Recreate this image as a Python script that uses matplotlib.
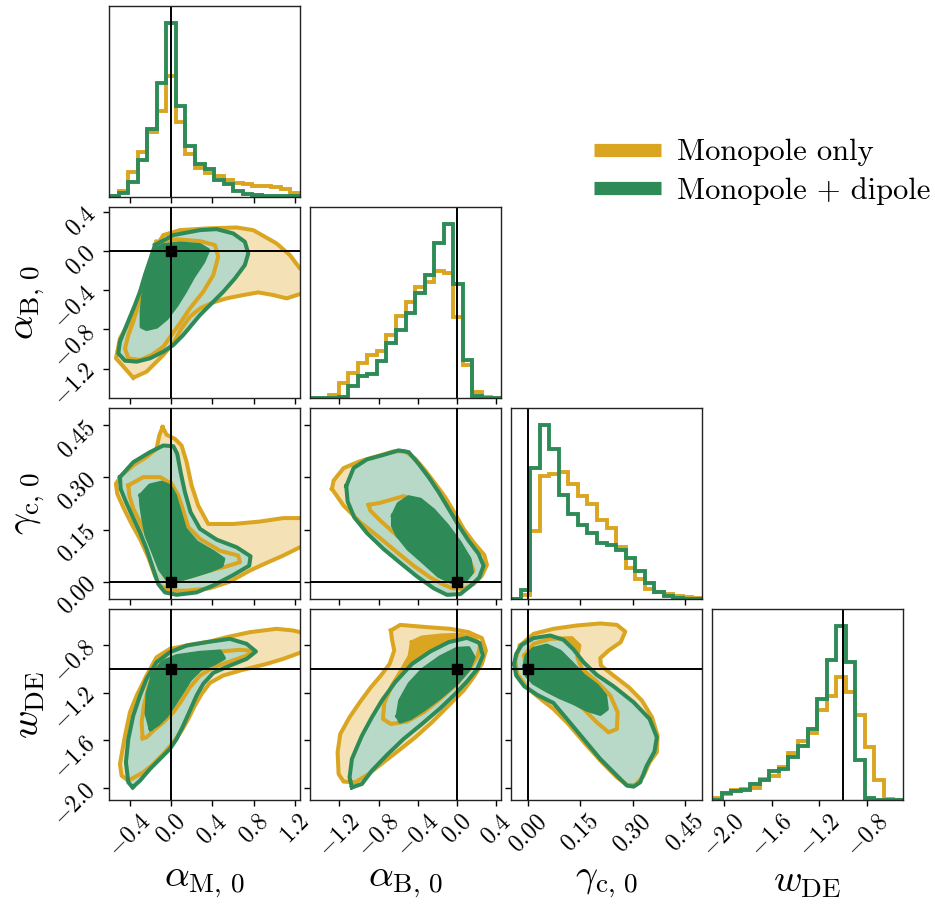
import numpy as np
import matplotlib
matplotlib.use("Agg")
import matplotlib.pyplot as plt
from matplotlib.lines import Line2D

plt.rcParams["font.family"] = "serif"
plt.rcParams["font.serif"] = ["cmr10"]
plt.rcParams["mathtext.fontset"] = "cm"
plt.rcParams["axes.formatter.use_mathtext"] = True

# parameters
labels = [r"$\alpha_{\mathrm{M},\,0}$", r"$\alpha_{\mathrm{B},\,0}$",
          r"$\gamma_{\mathrm{c},\,0}$", r"$w_{\mathrm{DE}}$"]
ranges = [(-0.6, 1.25), (-1.5, 0.45), (-0.05, 0.50), (-2.1, -0.5)]
ticks = [[-0.4, 0.0, 0.4, 0.8, 1.2], [-1.2, -0.8, -0.4, 0.0, 0.4],
         [0.0, 0.15, 0.30, 0.45], [-2.0, -1.6, -1.2, -0.8]]
truths = [0.0, 0.0, 0.0, -1.0]

names = ["Monopole only", "Monopole + dipole"]
line_colors = ["#DAA520", "#2E8B57"]
light_colors = ["#F4E2B6", "#B9D9C8"]

# 1D marginals, 20 bins over each range (relative counts)
hist_mono = [
    [2, 17, 75, 135, 195, 260, 365, 225, 128, 88, 72, 62, 50, 43, 38, 32, 34, 30, 23, 13],
    [0, 0, 8, 46, 76, 106, 128, 141, 188, 246, 288, 334, 348, 380, 374, 244, 98, 19, 3, 0],
    [0, 11, 204, 366, 374, 378, 344, 306, 284, 236, 211, 156, 91, 61, 31, 22, 14, 10, 6, 2],
    [7, 17, 29, 34, 37, 64, 73, 99, 139, 177, 199, 269, 311, 369, 324, 254, 159, 59, 2, 1],
]
hist_dip = [
    [2, 12, 45, 112, 205, 344, 522, 274, 153, 100, 85, 50, 38, 18, 10, 5, 4, 2, 2, 2],
    [0, 0, 0, 2, 36, 66, 71, 111, 166, 204, 256, 316, 369, 464, 521, 341, 114, 6, 1, 0],
    [0, 28, 391, 518, 446, 310, 254, 221, 196, 168, 161, 146, 121, 84, 48, 21, 8, 2, 1, 0],
    [1, 21, 27, 31, 49, 61, 87, 94, 129, 161, 212, 302, 419, 519, 413, 119, 5, 1, 0, 0],
]

# 2D credible regions (68% / 95%), vertices in data coordinates
# panel alpha_B vs alpha_M
mono_MB_95 = [(-0.365, -1.293), (-0.532, -1.095), (-0.494, -0.891), (-0.381, -0.687), (-0.300, -0.449),
              (-0.236, -0.211), (-0.155, 0.027), (-0.074, 0.163), (0.087, 0.214), (0.345, 0.231),
              (0.636, 0.241), (0.797, 0.214), (1.023, 0.078), (1.152, -0.041), (1.249, -0.177),
              (1.41, -0.279), (1.41, -0.449), (1.249, -0.439), (1.120, -0.483), (0.991, -0.449),
              (0.846, -0.422), (0.700, -0.449), (0.539, -0.483), (0.410, -0.524), (0.281, -0.585),
              (0.184, -0.670), (0.103, -0.789), (0.023, -0.942), (-0.074, -1.061), (-0.171, -1.163),
              (-0.236, -1.231)]
mono_MB_68 = [(-0.139, 0.095), (0.055, 0.119), (0.281, 0.102), (0.426, 0.061), (0.458, -0.058),
              (0.410, -0.245), (0.313, -0.415), (0.184, -0.585), (0.087, -0.738), (0.006, -0.857),
              (-0.074, -0.976), (-0.187, -1.061), (-0.300, -1.112), (-0.413, -1.095), (-0.445, -0.993),
              (-0.413, -0.857), (-0.365, -0.721), (-0.316, -0.551), (-0.284, -0.415), (-0.236, -0.245),
              (-0.187, -0.075)]
dip_MB_95 = [(-0.155, 0.061), (0.023, 0.163), (0.281, 0.214), (0.442, 0.224), (0.603, 0.180),
             (0.716, 0.095), (0.749, -0.024), (0.716, -0.143), (0.620, -0.279), (0.507, -0.415),
             (0.394, -0.534), (0.281, -0.653), (0.200, -0.755), (0.119, -0.857), (0.023, -0.959),
             (-0.074, -1.027), (-0.203, -1.095), (-0.332, -1.129), (-0.445, -1.119), (-0.510, -1.044),
             (-0.494, -0.925), (-0.429, -0.755), (-0.349, -0.551), (-0.300, -0.415), (-0.252, -0.245),
             (-0.203, -0.092)]
dip_MB_68 = [(-0.155, 0.010), (-0.074, 0.061), (0.087, 0.078), (0.281, 0.061), (0.361, 0.010),
             (0.313, -0.109), (0.216, -0.262), (0.135, -0.415), (0.055, -0.551), (-0.042, -0.687),
             (-0.139, -0.772), (-0.236, -0.796), (-0.284, -0.772), (-0.284, -0.619), (-0.268, -0.449),
             (-0.236, -0.279), (-0.203, -0.143), (-0.178, -0.041)]

# panel gamma_c vs alpha_M
mono_MG_95 = [(-0.081, 0.445), (-0.042, 0.423), (0.039, 0.411), (0.103, 0.392), (0.152, 0.344),
              (0.200, 0.277), (0.264, 0.219), (0.361, 0.166), (0.603, 0.166), (0.862, 0.173),
              (1.087, 0.183), (1.249, 0.183), (1.442, 0.183), (1.442, 0.099), (1.249, 0.099),
              (1.087, 0.075), (0.926, 0.054), (0.765, 0.032), (0.571, 0.000), (0.378, -0.019),
              (0.152, -0.026), (-0.010, -0.026), (-0.106, -0.012), (-0.155, 0.017), (-0.219, 0.070),
              (-0.300, 0.123), (-0.381, 0.166), (-0.455, 0.210), (-0.520, 0.253), (-0.533, 0.282),
              (-0.478, 0.306), (-0.365, 0.335), (-0.236, 0.359), (-0.139, 0.383), (-0.113, 0.421)]
mono_MG_68 = [(-0.413, 0.277), (-0.268, 0.301), (-0.106, 0.301), (0.006, 0.282), (0.071, 0.248),
              (0.119, 0.205), (0.168, 0.157), (0.281, 0.123), (0.474, 0.089), (0.652, 0.075),
              (0.668, 0.056), (0.539, 0.044), (0.378, 0.032), (0.216, 0.017), (0.055, 0.003),
              (-0.042, 0.008), (-0.106, 0.036), (-0.171, 0.089), (-0.236, 0.133), (-0.300, 0.171),
              (-0.365, 0.210), (-0.403, 0.248)]
dip_MG_95 = [(-0.494, 0.301), (-0.365, 0.344), (-0.203, 0.373), (-0.074, 0.392), (0.023, 0.390),
             (0.061, 0.368), (0.094, 0.315), (0.135, 0.258), (0.190, 0.200), (0.281, 0.152),
             (0.442, 0.121), (0.636, 0.099), (0.771, 0.073), (0.758, 0.046), (0.603, 0.019),
             (0.410, -0.011), (0.248, -0.031), (0.055, -0.038), (-0.058, -0.031), (-0.123, -0.007),
             (-0.171, 0.036), (-0.236, 0.094), (-0.300, 0.142), (-0.365, 0.183), (-0.435, 0.229),
             (-0.487, 0.267)]
dip_MG_68 = [(-0.294, 0.248), (-0.203, 0.277), (-0.090, 0.285), (-0.010, 0.275), (0.039, 0.248),
             (0.087, 0.200), (0.135, 0.152), (0.248, 0.113), (0.410, 0.085), (0.507, 0.065),
             (0.490, 0.046), (0.378, 0.032), (0.216, 0.017), (0.055, 0.003), (-0.042, 0.010),
             (-0.106, 0.036), (-0.171, 0.085), (-0.236, 0.133), (-0.268, 0.181), (-0.287, 0.219)]

# panel w_DE vs alpha_M
mono_MW_95 = [(-0.413, -1.938), (-0.478, -1.896), (-0.494, -1.798), (-0.445, -1.561), (-0.397, -1.365),
              (-0.332, -1.225), (-0.236, -1.057), (-0.139, -0.904), (-0.010, -0.834), (0.184, -0.800),
              (0.378, -0.772), (0.539, -0.736), (0.765, -0.694), (1.023, -0.666), (1.184, -0.680),
              (1.249, -0.694), (1.442, -0.694), (1.442, -0.867), (1.249, -0.867), (1.087, -0.918),
              (0.926, -0.960), (0.797, -0.988), (0.668, -1.016), (0.507, -1.057), (0.378, -1.119),
              (0.297, -1.211), (0.232, -1.309), (0.168, -1.421), (0.103, -1.519), (0.023, -1.617),
              (-0.074, -1.714), (-0.171, -1.798), (-0.268, -1.868)]
mono_MW_68 = [(-0.274, -1.583), (-0.284, -1.449), (-0.261, -1.309), (-0.219, -1.155), (-0.155, -1.016),
              (-0.058, -0.932), (0.087, -0.895), (0.281, -0.876), (0.474, -0.856), (0.668, -0.842),
              (0.804, -0.851), (0.733, -0.890), (0.571, -0.940), (0.410, -0.988), (0.281, -1.058),
              (0.184, -1.155), (0.103, -1.267), (0.023, -1.365), (-0.074, -1.449), (-0.171, -1.519),
              (-0.236, -1.575)]
dip_MW_95 = [(-0.371, -1.994), (-0.413, -1.952), (-0.436, -1.784), (-0.413, -1.589), (-0.365, -1.393),
             (-0.300, -1.225), (-0.236, -1.085), (-0.139, -0.946), (-0.010, -0.862), (0.152, -0.806),
             (0.345, -0.778), (0.571, -0.750), (0.733, -0.792), (0.823, -0.856), (0.733, -0.918),
             (0.571, -0.974), (0.410, -1.035), (0.313, -1.127), (0.248, -1.225), (0.184, -1.351),
             (0.119, -1.477), (0.055, -1.589), (-0.010, -1.672), (-0.106, -1.756), (-0.203, -1.840),
             (-0.300, -1.938)]
dip_MW_68 = [(-0.197, -1.505), (-0.236, -1.379), (-0.226, -1.211), (-0.178, -1.057), (-0.081, -0.946),
             (0.055, -0.895), (0.281, -0.867), (0.474, -0.856), (0.513, -0.912), (0.410, -0.960),
             (0.281, -1.007), (0.184, -1.091), (0.103, -1.203), (0.023, -1.309), (-0.042, -1.393),
             (-0.123, -1.463)]

# panel gamma_c vs alpha_B
mono_BG_95 = [(-1.276, 0.267), (-1.259, 0.291), (-1.157, 0.327), (-0.987, 0.347), (-0.817, 0.361),
              (-0.647, 0.375), (-0.528, 0.375), (-0.425, 0.354), (-0.323, 0.320), (-0.221, 0.282),
              (-0.119, 0.243), (-0.028, 0.200), (0.068, 0.152), (0.170, 0.113), (0.279, 0.077),
              (0.306, 0.048), (0.255, 0.017), (0.170, -0.007), (0.068, -0.021), (-0.051, -0.019),
              (-0.170, -0.004), (-0.272, 0.012), (-0.443, 0.046), (-0.613, 0.085), (-0.817, 0.133),
              (-0.987, 0.171), (-1.157, 0.219)]
mono_BG_68 = [(-0.902, 0.221), (-0.783, 0.227), (-0.647, 0.238), (-0.545, 0.246), (-0.408, 0.234),
              (-0.272, 0.205), (-0.136, 0.162), (0.000, 0.113), (0.119, 0.070), (0.170, 0.032),
              (0.102, 0.010), (-0.034, 0.012), (-0.204, 0.041), (-0.408, 0.085), (-0.613, 0.133),
              (-0.783, 0.176), (-0.885, 0.205)]
dip_BG_95 = [(-1.130, 0.275), (-1.055, 0.327), (-0.919, 0.352), (-0.749, 0.365), (-0.596, 0.378),
             (-0.493, 0.373), (-0.391, 0.339), (-0.289, 0.301), (-0.187, 0.258), (-0.085, 0.210),
             (0.017, 0.162), (0.119, 0.118), (0.221, 0.080), (0.272, 0.046), (0.228, 0.012),
             (0.136, -0.013), (0.034, -0.036), (-0.102, -0.038), (-0.238, -0.019), (-0.408, 0.015),
             (-0.579, 0.054), (-0.749, 0.094), (-0.919, 0.140), (-1.048, 0.185), (-1.116, 0.231)]
dip_BG_68 = [(-0.653, 0.190), (-0.596, 0.224), (-0.493, 0.243), (-0.374, 0.236), (-0.238, 0.205),
             (-0.102, 0.162), (0.027, 0.113), (0.129, 0.065), (0.153, 0.027), (0.085, 0.003),
             (-0.051, -0.002), (-0.187, 0.017), (-0.340, 0.056), (-0.494, 0.094), (-0.606, 0.133),
             (-0.653, 0.161)]

# panel w_DE vs alpha_B
mono_BW_95 = [(-0.674, -0.680), (-0.579, -0.633), (-0.306, -0.652), (-0.068, -0.666), (0.119, -0.694),
              (0.255, -0.744), (0.296, -0.848), (0.255, -0.960), (0.170, -1.071), (0.068, -1.183),
              (-0.085, -1.309), (-0.255, -1.449), (-0.425, -1.575), (-0.596, -1.686), (-0.749, -1.784),
              (-0.902, -1.882), (-1.038, -1.952), (-1.157, -1.946), (-1.208, -1.882), (-1.218, -1.700),
              (-1.191, -1.547), (-1.096, -1.407), (-0.987, -1.276), (-0.878, -1.155), (-0.776, -1.057),
              (-0.687, -0.960), (-0.640, -0.848), (-0.664, -0.750)]
mono_BW_68 = [(-0.460, -0.778), (-0.357, -0.739), (-0.170, -0.722), (0.034, -0.716), (0.177, -0.736),
              (0.238, -0.806), (0.211, -0.895), (0.129, -1.002), (0.000, -1.127), (-0.170, -1.253),
              (-0.340, -1.365), (-0.511, -1.443), (-0.674, -1.463), (-0.755, -1.421), (-0.742, -1.287),
              (-0.664, -1.141), (-0.562, -1.007), (-0.483, -0.895)]
dip_BW_95 = [(-1.072, -1.994), (-1.096, -1.910), (-1.072, -1.756), (-0.970, -1.561), (-0.868, -1.407),
             (-0.766, -1.267), (-0.630, -1.113), (-0.459, -0.960), (-0.272, -0.856), (-0.085, -0.778),
             (0.102, -0.742), (0.231, -0.784), (0.265, -0.890), (0.204, -1.007), (0.102, -1.108),
             (-0.017, -1.211), (-0.170, -1.331), (-0.357, -1.463), (-0.545, -1.589), (-0.715, -1.723),
             (-0.868, -1.854), (-0.970, -1.966)]
dip_BW_68 = [(-0.606, -1.398), (-0.579, -1.267), (-0.483, -1.127), (-0.347, -1.007), (-0.170, -0.904),
             (0.000, -0.834), (0.119, -0.828), (0.170, -0.904), (0.119, -1.007), (0.000, -1.119),
             (-0.170, -1.239), (-0.340, -1.343), (-0.477, -1.415), (-0.579, -1.443)]

# panel w_DE vs gamma_c
mono_GW_95 = [(-0.024, -0.806), (0.015, -0.708), (0.072, -0.666), (0.140, -0.638), (0.207, -0.621),
              (0.255, -0.633), (0.279, -0.689), (0.266, -0.778), (0.231, -0.848), (0.207, -0.912),
              (0.209, -0.974), (0.245, -1.057), (0.289, -1.155), (0.327, -1.267), (0.356, -1.407),
              (0.372, -1.561), (0.370, -1.700), (0.349, -1.784), (0.332, -1.896), (0.308, -1.974),
              (0.284, -1.974), (0.255, -1.910), (0.212, -1.784), (0.164, -1.630), (0.115, -1.463),
              (0.072, -1.337), (0.029, -1.239), (-0.005, -1.155), (-0.032, -1.043), (-0.038, -0.932)]
mono_GW_68 = [(-0.012, -0.890), (0.015, -0.792), (0.063, -0.750), (0.125, -0.744), (0.147, -0.806),
              (0.141, -0.904), (0.154, -1.002), (0.197, -1.108), (0.236, -1.225), (0.257, -1.365),
              (0.255, -1.505), (0.231, -1.533), (0.197, -1.449), (0.159, -1.337), (0.111, -1.239),
              (0.063, -1.169), (0.019, -1.099), (-0.007, -1.015)]
dip_GW_95 = [(-0.041, -0.960), (-0.035, -0.876), (-0.019, -0.800), (0.015, -0.744), (0.063, -0.722),
             (0.101, -0.758), (0.130, -0.839), (0.159, -0.946), (0.197, -1.052), (0.245, -1.147),
             (0.303, -1.281), (0.349, -1.421), (0.370, -1.575), (0.363, -1.695), (0.341, -1.812),
             (0.322, -1.952), (0.303, -1.988), (0.284, -1.980), (0.255, -1.896), (0.207, -1.756),
             (0.159, -1.589), (0.111, -1.421), (0.072, -1.287), (0.026, -1.220), (-0.012, -1.147),
             (-0.035, -1.057)]
dip_GW_68 = [(-0.012, -0.988), (-0.005, -0.890), (0.015, -0.834), (0.053, -0.806), (0.091, -0.856),
             (0.122, -0.946), (0.159, -1.057), (0.197, -1.141), (0.221, -1.225), (0.226, -1.337),
             (0.207, -1.379), (0.168, -1.343), (0.130, -1.287), (0.091, -1.239), (0.053, -1.183),
             (0.015, -1.119), (-0.005, -1.057)]

# (row, col) -> [monopole (95, 68), dipole (95, 68)]
regions = {
    (1, 0): [(mono_MB_95, mono_MB_68), (dip_MB_95, dip_MB_68)],
    (2, 0): [(mono_MG_95, mono_MG_68), (dip_MG_95, dip_MG_68)],
    (3, 0): [(mono_MW_95, mono_MW_68), (dip_MW_95, dip_MW_68)],
    (2, 1): [(mono_BG_95, mono_BG_68), (dip_BG_95, dip_BG_68)],
    (3, 1): [(mono_BW_95, mono_BW_68), (dip_BW_95, dip_BW_68)],
    (3, 2): [(mono_GW_95, mono_GW_68), (dip_GW_95, dip_GW_68)],
}

W, H = 935, 905
fig = plt.figure(figsize=(W / 100, H / 100), dpi=100)

col_left = [109, 310, 511, 712]
row_top = [6, 207, 408, 609]
size = 191


def closed(pts):
    arr = np.array(pts)
    return np.vstack([arr, arr[:1]])


def style_axes(ax, i, j):
    for s in ax.spines.values():
        s.set_linewidth(1.0)
        s.set_color("#222222")
    ax.tick_params(direction="out", length=4, width=1.0, labelsize=17)
    ax.tick_params(axis="y", pad=2.5)
    ax.set_xticks(ticks[j])
    ax.set_xlim(ranges[j])
    if i == 3:
        for lab in ax.get_xticklabels():
            lab.set_rotation(45)
        ax.set_xlabel(labels[j], fontsize=28)
        ax.xaxis.set_label_coords(0.5, -0.43)
        ax.xaxis.label.set_va("center")
    else:
        ax.set_xticklabels([])


axes = {}
for i in range(4):
    for j in range(i + 1):
        rect = [col_left[j] / W, 1 - (row_top[i] + size) / H, size / W, size / H]
        ax = fig.add_axes(rect)
        axes[(i, j)] = ax
        if i == j:
            edges = np.linspace(ranges[j][0], ranges[j][1], 21)
            for k in range(2):
                h = [hist_mono, hist_dip][k][j]
                ax.stairs(h, edges, color=line_colors[k], lw=2.8, baseline=None)
            top = max(max(hist_mono[j]), max(hist_dip[j]))
            ax.set_ylim(0, 1.1 * top)
            ax.set_yticks([])
            ax.axvline(truths[j], color="black", lw=1.4)
        else:
            mono, dip = regions[(i, j)]
            # monopole fills
            p95, p68 = closed(mono[0]), closed(mono[1])
            ax.fill(p95[:, 0], p95[:, 1], color=light_colors[0], lw=0, zorder=1)
            ax.fill(p68[:, 0], p68[:, 1], color=line_colors[0], lw=0, zorder=1.1)
            # dipole light fill
            d95, d68 = closed(dip[0]), closed(dip[1])
            ax.fill(d95[:, 0], d95[:, 1], color=light_colors[1], lw=0, zorder=1.2)
            # monopole lines
            for p in (p95, p68):
                ax.plot(p[:, 0], p[:, 1], color=line_colors[0], lw=2.9,
                        solid_joinstyle="round", zorder=1.3)
            ax.fill(d68[:, 0], d68[:, 1], color=line_colors[1], lw=0, zorder=1.4)
            for p in (d95, d68):
                ax.plot(p[:, 0], p[:, 1], color=line_colors[1], lw=2.9,
                        solid_joinstyle="round", zorder=1.5)
            ax.axvline(truths[j], color="black", lw=1.4, zorder=3)
            ax.axhline(truths[i], color="black", lw=1.4, zorder=3)
            ax.plot(truths[j], truths[i], "s", color="black", ms=7, zorder=4)
            ax.set_yticks(ticks[i])
            ax.set_ylim(ranges[i])
            if j == 0:
                for lab in ax.get_yticklabels():
                    lab.set_rotation(45)
                ax.set_ylabel(labels[i], fontsize=28)
                ax.yaxis.set_label_coords(-0.42, 0.5)
                ax.yaxis.label.set_va("center")
            else:
                ax.set_yticklabels([])
        style_axes(ax, i, j)

handles = [Line2D([], [], color=c, lw=9.5, solid_capstyle="butt") for c in line_colors]
fig.legend(handles, names, loc="center left", bbox_to_anchor=(594 / W, 1 - 172 / H),
           frameon=False, fontsize=22, borderpad=0, borderaxespad=0, handlelength=2.2,
           handletextpad=0.52, labelspacing=0.36)

fig.savefig("out.png", dpi=100)
